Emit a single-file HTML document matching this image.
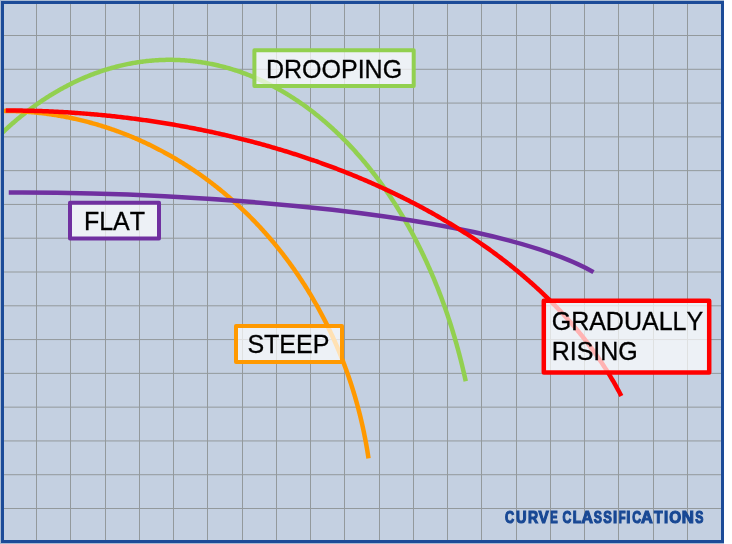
<!DOCTYPE html>
<html><head><meta charset="utf-8"><style>
html,body{margin:0;padding:0;background:#fff;width:732px;height:544px;overflow:hidden}
svg{display:block;will-change:transform}
text{font-family:"Liberation Sans",sans-serif;font-kerning:none}
</style></head><body>
<svg width="732" height="544" viewBox="0 0 732 544">
<rect x="0" y="0" width="724" height="544" fill="#C4D0E1"/>
<g fill="#93999C"><rect x="36" y="4" width="1" height="536"/><rect x="70" y="4" width="1" height="536"/><rect x="105" y="4" width="1" height="536"/><rect x="139" y="4" width="1" height="536"/><rect x="173" y="4" width="1" height="536"/><rect x="207" y="4" width="1" height="536"/><rect x="242" y="4" width="1" height="536"/><rect x="276" y="4" width="1" height="536"/><rect x="310" y="4" width="1" height="536"/><rect x="344" y="4" width="1" height="536"/><rect x="379" y="4" width="1" height="536"/><rect x="413" y="4" width="1" height="536"/><rect x="447" y="4" width="1" height="536"/><rect x="481" y="4" width="1" height="536"/><rect x="516" y="4" width="1" height="536"/><rect x="550" y="4" width="1" height="536"/><rect x="584" y="4" width="1" height="536"/><rect x="618" y="4" width="1" height="536"/><rect x="653" y="4" width="1" height="536"/><rect x="687" y="4" width="1" height="536"/><rect x="4" y="35.00" width="717" height="1"/><rect x="4" y="68.79" width="717" height="1"/><rect x="4" y="102.57" width="717" height="1"/><rect x="4" y="136.36" width="717" height="1"/><rect x="4" y="170.14" width="717" height="1"/><rect x="4" y="203.93" width="717" height="1"/><rect x="4" y="237.71" width="717" height="1"/><rect x="4" y="271.50" width="717" height="1"/><rect x="4" y="305.29" width="717" height="1"/><rect x="4" y="339.07" width="717" height="1"/><rect x="4" y="372.86" width="717" height="1"/><rect x="4" y="406.64" width="717" height="1"/><rect x="4" y="440.43" width="717" height="1"/><rect x="4" y="474.21" width="717" height="1"/><rect x="4" y="508.00" width="717" height="1"/></g>
<g fill="none" stroke-width="4.5" stroke-linecap="butt" stroke-linejoin="round">
<path d="M1.00,134.00 L1.96,133.08 L2.92,132.16 L3.89,131.25 L4.86,130.34 L5.82,129.44 L6.80,128.55 L7.77,127.66 L8.75,126.78 L9.72,125.90 L10.70,125.03 L11.69,124.16 L12.67,123.30 L13.66,122.44 L14.65,121.59 L15.64,120.74 L16.63,119.90 L17.63,119.07 L18.62,118.24 L19.62,117.41 L20.62,116.59 L21.63,115.78 L22.63,114.97 L23.64,114.17 L24.65,113.37 L25.66,112.58 L26.67,111.79 L27.69,111.01 L28.70,110.24 L29.72,109.47 L30.74,108.71 L31.76,107.95 L32.79,107.20 L33.81,106.45 L34.84,105.71 L35.87,104.97 L36.90,104.24 L37.94,103.52 L38.97,102.80 L40.01,102.09 L41.05,101.38 L42.09,100.68 L43.13,99.98 L44.17,99.29 L45.22,98.61 L46.27,97.93 L47.31,97.26 L48.37,96.59 L49.42,95.93 L50.47,95.27 L51.53,94.62 L52.58,93.98 L53.64,93.34 L54.70,92.71 L55.76,92.08 L56.83,91.46 L57.89,90.85 L58.96,90.24 L60.02,89.63 L61.09,89.04 L62.16,88.44 L63.24,87.86 L64.31,87.28 L65.38,86.71 L66.46,86.14 L67.54,85.57 L68.62,85.02 L69.70,84.47 L70.78,83.92 L71.86,83.39 L72.95,82.85 L74.03,82.33 L75.12,81.81 L76.21,81.29 L77.30,80.78 L78.39,80.28 L79.48,79.78 L80.57,79.29 L81.67,78.81 L82.76,78.33 L83.86,77.85 L84.96,77.39 L86.06,76.93 L87.16,76.47 L88.26,76.02 L89.36,75.58 L90.46,75.14 L91.57,74.71 L92.67,74.29 L93.78,73.87 L94.89,73.46 L96.00,73.05 L97.11,72.65 L98.22,72.26 L99.33,71.87 L100.44,71.48 L101.56,71.11 L102.67,70.74 L103.78,70.37 L104.90,70.02 L106.02,69.67 L107.14,69.32 L108.25,68.98 L109.37,68.65 L110.49,68.32 L111.62,68.00 L112.74,67.68 L113.86,67.38 L114.98,67.07 L116.11,66.78 L117.23,66.49 L118.36,66.20 L119.48,65.92 L120.61,65.65 L121.74,65.39 L122.87,65.13 L124.00,64.87 L125.13,64.63 L126.26,64.39 L127.39,64.15 L128.52,63.92 L129.65,63.70 L130.78,63.48 L131.92,63.27 L133.05,63.07 L134.18,62.87 L135.32,62.68 L136.45,62.50 L137.59,62.32 L138.72,62.15 L139.86,61.98 L141.00,61.82 L142.13,61.66 L143.27,61.52 L144.41,61.38 L145.55,61.24 L146.68,61.11 L147.82,60.99 L148.96,60.87 L150.10,60.76 L151.24,60.66 L152.38,60.56 L153.52,60.47 L154.66,60.38 L155.80,60.30 L156.94,60.23 L158.08,60.16 L159.22,60.10 L160.36,60.05 L161.50,60.00 L162.65,59.96 L163.79,59.92 L164.93,59.89 L166.07,59.87 L167.21,59.85 L168.35,59.84 L169.50,59.84 L170.64,59.84 L171.78,59.85 L172.92,59.87 L174.06,59.89 L175.20,59.91 L176.34,59.95 L177.49,59.99 L178.63,60.03 L179.77,60.08 L180.91,60.14 L182.05,60.21 L183.19,60.28 L184.33,60.35 L185.47,60.44 L186.61,60.53 L187.75,60.62 L188.89,60.72 L190.03,60.83 L191.17,60.95 L192.31,61.07 L193.45,61.20 L194.58,61.33 L195.72,61.47 L196.86,61.61 L198.00,61.77 L199.13,61.92 L200.27,62.09 L201.41,62.26 L202.54,62.43 L203.68,62.62 L204.81,62.81 L205.94,63.00 L207.08,63.20 L208.21,63.41 L209.34,63.63 L210.48,63.85 L211.61,64.07 L212.74,64.31 L213.87,64.54 L215.00,64.79 L216.13,65.04 L217.26,65.30 L218.38,65.56 L219.51,65.83 L220.64,66.11 L221.76,66.39 L222.89,66.68 L224.01,66.97 L225.14,67.27 L226.26,67.58 L227.38,67.89 L228.50,68.21 L229.62,68.53 L230.74,68.87 L231.86,69.20 L232.98,69.55 L234.10,69.90 L235.21,70.25 L236.33,70.61 L237.44,70.98 L238.56,71.36 L239.67,71.74 L240.78,72.12 L241.89,72.51 L243.00,72.91 L244.11,73.32 L245.22,73.73 L246.33,74.14 L247.43,74.57 L248.54,75.00 L249.64,75.43 L250.75,75.87 L251.85,76.32 L252.95,76.77 L254.05,77.23 L255.15,77.69 L256.24,78.17 L257.34,78.64 L258.43,79.12 L259.53,79.61 L260.62,80.11 L261.71,80.61 L262.80,81.12 L263.89,81.63 L264.98,82.15 L266.06,82.67 L267.15,83.20 L268.23,83.74 L269.31,84.28 L270.39,84.83 L271.47,85.38 L272.55,85.94 L273.63,86.51 L274.70,87.08 L275.78,87.66 L276.85,88.24 L277.92,88.83 L278.99,89.43 L280.06,90.03 L281.13,90.64 L282.19,91.25 L283.25,91.87 L284.32,92.49 L285.38,93.13 L286.44,93.76 L287.49,94.40 L288.55,95.05 L289.60,95.70 L290.66,96.36 L291.71,97.03 L292.76,97.70 L293.80,98.38 L294.85,99.06 L295.89,99.75 L296.94,100.44 L297.98,101.14 L299.02,101.85 L300.05,102.56 L301.09,103.27 L302.12,104.00 L303.16,104.72 L304.19,105.46 L305.22,106.20 L306.24,106.94 L307.27,107.69 L308.29,108.45 L309.31,109.21 L310.33,109.98 L311.35,110.75 L312.36,111.53 L313.38,112.31 L314.39,113.10 L315.40,113.90 L316.41,114.70 L317.41,115.50 L318.42,116.31 L319.42,117.13 L320.42,117.95 L321.41,118.78 L322.41,119.61 L323.40,120.45 L324.40,121.30 L325.39,122.15 L326.37,123.00 L327.36,123.86 L328.34,124.73 L329.32,125.60 L330.30,126.48 L331.28,127.36 L332.25,128.25 L333.22,129.14 L334.19,130.04 L335.16,130.94 L336.13,131.85 L337.09,132.76 L338.05,133.68 L339.01,134.61 L339.97,135.54 L340.92,136.47 L341.87,137.41 L342.82,138.36 L343.77,139.31 L344.72,140.26 L345.66,141.22 L346.60,142.19 L347.54,143.16 L348.47,144.14 L349.41,145.12 L350.34,146.10 L351.27,147.10 L352.19,148.09 L353.11,149.09 L354.04,150.10 L354.95,151.11 L355.87,152.13 L356.78,153.15 L357.69,154.18 L358.60,155.21 L359.51,156.25 L360.41,157.29 L361.31,158.34 L362.21,159.39 L363.11,160.44 L364.00,161.51 L364.89,162.57 L365.78,163.64 L366.66,164.72 L367.55,165.80 L368.42,166.88 L369.30,167.98 L370.18,169.07 L371.05,170.17 L371.92,171.28 L372.78,172.39 L373.65,173.50 L374.51,174.62 L375.37,175.74 L376.22,176.87 L377.07,178.00 L377.92,179.14 L378.77,180.28 L379.61,181.43 L380.46,182.58 L381.29,183.74 L382.13,184.90 L382.96,186.06 L383.79,187.23 L384.62,188.41 L385.44,189.59 L386.26,190.77 L387.08,191.96 L387.90,193.15 L388.71,194.35 L389.52,195.55 L390.33,196.76 L391.13,197.97 L391.93,199.18 L392.73,200.40 L393.52,201.62 L394.31,202.85 L395.10,204.08 L395.89,205.32 L396.67,206.56 L397.45,207.80 L398.23,209.05 L399.00,210.31 L399.77,211.56 L400.54,212.83 L401.30,214.09 L402.06,215.36 L402.82,216.64 L403.57,217.91 L404.32,219.20 L405.07,220.48 L405.82,221.77 L406.56,223.07 L407.30,224.37 L408.03,225.67 L408.77,226.98 L409.50,228.29 L410.22,229.60 L410.94,230.92 L411.66,232.25 L412.38,233.57 L413.09,234.90 L413.80,236.24 L414.51,237.58 L415.21,238.92 L415.91,240.26 L416.61,241.61 L417.30,242.97 L417.99,244.33 L418.68,245.69 L419.36,247.05 L420.04,248.42 L420.71,249.79 L421.39,251.17 L422.06,252.55 L422.72,253.93 L423.39,255.32 L424.05,256.71 L424.70,258.11 L425.35,259.50 L426.00,260.90 L426.65,262.31 L427.29,263.72 L427.93,265.13 L428.56,266.55 L429.20,267.96 L429.82,269.39 L430.45,270.81 L431.07,272.24 L431.69,273.68 L432.30,275.11 L432.91,276.55 L433.52,277.99 L434.12,279.44 L434.72,280.89 L435.32,282.34 L435.91,283.80 L436.50,285.26 L437.09,286.72 L437.67,288.18 L438.25,289.65 L438.82,291.13 L439.39,292.60 L439.96,294.08 L440.52,295.56 L441.08,297.04 L441.64,298.53 L442.19,300.02 L442.74,301.52 L443.29,303.01 L443.83,304.51 L444.37,306.01 L444.90,307.52 L445.43,309.03 L445.96,310.54 L446.48,312.05 L447.00,313.57 L447.52,315.09 L448.03,316.61 L448.54,318.14 L449.05,319.66 L449.55,321.20 L450.04,322.73 L450.54,324.27 L451.03,325.80 L451.51,327.35 L451.99,328.89 L452.47,330.44 L452.95,331.99 L453.42,333.54 L453.88,335.09 L454.35,336.65 L454.81,338.21 L455.26,339.77 L455.71,341.34 L456.16,342.90 L456.60,344.47 L457.04,346.05 L457.48,347.62 L457.91,349.20 L458.34,350.78 L458.76,352.36 L459.19,353.94 L459.60,355.53 L460.01,357.12 L460.42,358.71 L460.83,360.30 L461.23,361.90 L461.63,363.49 L462.02,365.09 L462.41,366.69 L462.79,368.30 L463.17,369.90 L463.55,371.51 L463.93,373.12 L464.29,374.73 L464.66,376.35 L465.02,377.96 L465.38,379.58 L465.73,381.20" stroke="#92D050"/>
<path d="M2.73,110.87 L3.77,110.87 L4.82,110.88 L5.86,110.88 L6.91,110.90 L7.95,110.91 L9.00,110.93 L10.04,110.95 L11.09,110.98 L12.13,111.00 L13.18,111.03 L14.22,111.07 L15.27,111.11 L16.31,111.15 L17.35,111.19 L18.40,111.24 L19.44,111.29 L20.49,111.35 L21.53,111.40 L22.57,111.47 L23.62,111.53 L24.66,111.60 L25.70,111.67 L26.74,111.74 L27.79,111.82 L28.83,111.90 L29.87,111.98 L30.91,112.07 L31.95,112.16 L33.00,112.26 L34.04,112.35 L35.08,112.45 L36.12,112.56 L37.16,112.67 L38.20,112.78 L39.24,112.89 L40.28,113.01 L41.32,113.13 L42.36,113.25 L43.40,113.38 L44.43,113.51 L45.47,113.64 L46.51,113.78 L47.55,113.92 L48.58,114.06 L49.62,114.21 L50.66,114.36 L51.69,114.51 L52.73,114.67 L53.76,114.82 L54.80,114.99 L55.83,115.15 L56.87,115.32 L57.90,115.50 L58.93,115.67 L59.97,115.85 L61.00,116.03 L62.03,116.22 L63.06,116.41 L64.09,116.60 L65.12,116.80 L66.15,116.99 L67.18,117.20 L68.21,117.40 L69.24,117.61 L70.26,117.82 L71.29,118.04 L72.32,118.25 L73.34,118.48 L74.37,118.70 L75.39,118.93 L76.42,119.16 L77.44,119.39 L78.47,119.63 L79.49,119.87 L80.51,120.12 L81.53,120.36 L82.55,120.61 L83.57,120.87 L84.59,121.12 L85.61,121.38 L86.63,121.65 L87.65,121.91 L88.66,122.18 L89.68,122.46 L90.69,122.73 L91.71,123.01 L92.72,123.30 L93.74,123.58 L94.75,123.87 L95.76,124.16 L96.77,124.46 L97.78,124.76 L98.79,125.06 L99.80,125.36 L100.81,125.67 L101.81,125.98 L102.82,126.30 L103.83,126.61 L104.83,126.94 L105.84,127.26 L106.84,127.59 L107.84,127.92 L108.84,128.25 L109.84,128.59 L110.84,128.93 L111.84,129.27 L112.84,129.62 L113.84,129.97 L114.83,130.32 L115.83,130.67 L116.82,131.03 L117.82,131.39 L118.81,131.76 L119.80,132.13 L120.79,132.50 L121.78,132.87 L122.77,133.25 L123.76,133.63 L124.75,134.01 L125.73,134.40 L126.72,134.79 L127.70,135.18 L128.69,135.58 L129.67,135.98 L130.65,136.38 L131.63,136.79 L132.61,137.20 L133.59,137.61 L134.56,138.02 L135.54,138.44 L136.52,138.86 L137.49,139.29 L138.46,139.71 L139.43,140.14 L140.40,140.58 L141.37,141.01 L142.34,141.45 L143.31,141.90 L144.28,142.34 L145.24,142.79 L146.21,143.24 L147.17,143.70 L148.13,144.15 L149.09,144.61 L150.05,145.08 L151.01,145.54 L151.97,146.01 L152.92,146.49 L153.88,146.96 L154.83,147.44 L155.78,147.92 L156.73,148.41 L157.68,148.90 L158.63,149.39 L159.58,149.88 L160.52,150.38 L161.47,150.88 L162.41,151.38 L163.36,151.89 L164.30,152.39 L165.24,152.91 L166.17,153.42 L167.11,153.94 L168.05,154.46 L168.98,154.98 L169.92,155.51 L170.85,156.04 L171.78,156.57 L172.71,157.11 L173.64,157.64 L174.56,158.19 L175.49,158.73 L176.41,159.28 L177.33,159.83 L178.25,160.38 L179.17,160.94 L180.09,161.49 L181.01,162.06 L181.92,162.62 L182.84,163.19 L183.75,163.76 L184.66,164.33 L185.57,164.91 L186.48,165.49 L187.39,166.07 L188.29,166.65 L189.20,167.24 L190.10,167.83 L191.00,168.42 L191.90,169.02 L192.80,169.62 L193.69,170.22 L194.59,170.82 L195.48,171.43 L196.37,172.04 L197.26,172.65 L198.15,173.27 L199.04,173.89 L199.92,174.51 L200.81,175.13 L201.69,175.76 L202.57,176.39 L203.45,177.02 L204.33,177.66 L205.21,178.30 L206.08,178.94 L206.95,179.58 L207.82,180.23 L208.69,180.88 L209.56,181.53 L210.43,182.18 L211.29,182.84 L212.16,183.50 L213.02,184.16 L213.88,184.83 L214.73,185.50 L215.59,186.17 L216.45,186.84 L217.30,187.52 L218.15,188.20 L219.00,188.88 L219.85,189.56 L220.69,190.25 L221.54,190.94 L222.38,191.63 L223.22,192.33 L224.06,193.02 L224.90,193.72 L225.73,194.43 L226.57,195.13 L227.40,195.84 L228.23,196.55 L229.06,197.27 L229.89,197.98 L230.71,198.70 L231.53,199.42 L232.35,200.15 L233.17,200.87 L233.99,201.60 L234.81,202.33 L235.62,203.07 L236.43,203.80 L237.24,204.54 L238.05,205.28 L238.86,206.03 L239.66,206.78 L240.47,207.53 L241.27,208.28 L242.07,209.03 L242.86,209.79 L243.66,210.55 L244.45,211.31 L245.24,212.08 L246.03,212.84 L246.82,213.61 L247.61,214.38 L248.39,215.16 L249.17,215.94 L249.95,216.72 L250.73,217.50 L251.50,218.28 L252.28,219.07 L253.05,219.86 L253.82,220.65 L254.59,221.44 L255.35,222.24 L256.12,223.04 L256.88,223.84 L257.64,224.64 L258.40,225.45 L259.15,226.26 L259.91,227.07 L260.66,227.88 L261.41,228.70 L262.15,229.52 L262.90,230.34 L263.64,231.16 L264.38,231.99 L265.12,232.81 L265.86,233.64 L266.60,234.48 L267.33,235.31 L268.06,236.15 L268.79,236.99 L269.52,237.83 L270.24,238.67 L270.96,239.52 L271.68,240.36 L272.40,241.22 L273.12,242.07 L273.83,242.92 L274.54,243.78 L275.25,244.64 L275.96,245.50 L276.67,246.37 L277.37,247.23 L278.07,248.10 L278.77,248.97 L279.46,249.84 L280.16,250.72 L280.85,251.60 L281.54,252.48 L282.23,253.36 L282.91,254.24 L283.60,255.13 L284.28,256.01 L284.96,256.91 L285.63,257.80 L286.31,258.69 L286.98,259.59 L287.65,260.49 L288.32,261.39 L288.98,262.29 L289.65,263.20 L290.31,264.10 L290.96,265.01 L291.62,265.92 L292.27,266.84 L292.93,267.75 L293.58,268.67 L294.22,269.59 L294.87,270.51 L295.51,271.43 L296.15,272.36 L296.79,273.29 L297.42,274.22 L298.06,275.15 L298.69,276.08 L299.31,277.02 L299.94,277.96 L300.56,278.90 L301.18,279.84 L301.80,280.78 L302.42,281.73 L303.03,282.67 L303.65,283.62 L304.26,284.57 L304.86,285.53 L305.47,286.48 L306.07,287.44 L306.67,288.40 L307.27,289.36 L307.86,290.32 L308.45,291.29 L309.04,292.25 L309.63,293.22 L310.22,294.19 L310.80,295.16 L311.38,296.14 L311.96,297.11 L312.53,298.09 L313.10,299.07 L313.68,300.05 L314.24,301.03 L314.81,302.02 L315.37,303.00 L315.93,303.99 L316.49,304.98 L317.05,305.97 L317.60,306.97 L318.15,307.96 L318.70,308.96 L319.24,309.96 L319.79,310.96 L320.33,311.96 L320.86,312.97 L321.40,313.97 L321.93,314.98 L322.46,315.99 L322.99,317.00 L323.52,318.01 L324.04,319.02 L324.56,320.04 L325.08,321.06 L325.59,322.08 L326.11,323.10 L326.62,324.12 L327.12,325.14 L327.63,326.17 L328.13,327.19 L328.63,328.22 L329.13,329.25 L329.62,330.28 L330.11,331.32 L330.60,332.35 L331.09,333.39 L331.57,334.43 L332.05,335.46 L332.53,336.51 L333.01,337.55 L333.48,338.59 L333.95,339.64 L334.42,340.68 L334.89,341.73 L335.35,342.78 L335.81,343.83 L336.27,344.89 L336.72,345.94 L337.18,346.99 L337.63,348.05 L338.07,349.11 L338.52,350.17 L338.96,351.23 L339.40,352.29 L339.84,353.36 L340.27,354.42 L340.70,355.49 L341.13,356.56 L341.56,357.63 L341.98,358.70 L342.40,359.77 L342.82,360.84 L343.23,361.92 L343.64,362.99 L344.05,364.07 L344.46,365.15 L344.86,366.23 L345.27,367.31 L345.66,368.39 L346.06,369.48 L346.45,370.56 L346.84,371.65 L347.23,372.73 L347.62,373.82 L348.00,374.91 L348.38,376.00 L348.76,377.10 L349.13,378.19 L349.50,379.28 L349.87,380.38 L350.24,381.48 L350.60,382.57 L350.96,383.67 L351.32,384.77 L351.67,385.88 L352.02,386.98 L352.37,388.08 L352.72,389.19 L353.06,390.29 L353.40,391.40 L353.74,392.51 L354.08,393.62 L354.41,394.73 L354.74,395.84 L355.07,396.95 L355.39,398.06 L355.71,399.18 L356.03,400.29 L356.35,401.41 L356.66,402.53 L356.97,403.64 L357.28,404.76 L357.58,405.88 L357.88,407.00 L358.18,408.13 L358.48,409.25 L358.77,410.37 L359.06,411.50 L359.35,412.62 L359.64,413.75 L359.92,414.88 L360.20,416.01 L360.47,417.14 L360.75,418.27 L361.02,419.40 L361.28,420.53 L361.55,421.66 L361.81,422.80 L362.07,423.93 L362.33,425.07 L362.58,426.20 L362.83,427.34 L363.08,428.48 L363.32,429.61 L363.57,430.75 L363.80,431.89 L364.04,433.03 L364.27,434.18 L364.50,435.32 L364.73,436.46 L364.96,437.60 L365.18,438.75 L365.40,439.89 L365.61,441.04 L365.83,442.19 L366.04,443.33 L366.25,444.48 L366.45,445.63 L366.65,446.78 L366.85,447.93 L367.05,449.08 L367.24,450.23 L367.43,451.38 L367.62,452.53 L367.80,453.68 L367.98,454.84 L368.16,455.99 L368.34,457.15 L368.51,458.30" stroke="#FF9900"/>
<path d="M8.75,192.52 C196.69,191.49 488.92,213.24 593.51,272.10" stroke="#7030A0"/>
<path d="M5.70,110.48 L7.33,110.48 L8.95,110.49 L10.58,110.49 L12.20,110.50 L13.83,110.51 L15.46,110.53 L17.08,110.54 L18.71,110.56 L20.33,110.59 L21.96,110.61 L23.59,110.64 L25.21,110.67 L26.84,110.70 L28.46,110.74 L30.09,110.77 L31.71,110.82 L33.34,110.86 L34.96,110.90 L36.59,110.95 L38.21,111.00 L39.83,111.06 L41.46,111.11 L43.08,111.17 L44.71,111.23 L46.33,111.30 L47.95,111.36 L49.57,111.43 L51.20,111.51 L52.82,111.58 L54.44,111.66 L56.06,111.74 L57.68,111.82 L59.30,111.90 L60.92,111.99 L62.54,112.08 L64.16,112.18 L65.78,112.27 L67.40,112.37 L69.02,112.47 L70.64,112.57 L72.26,112.68 L73.87,112.79 L75.49,112.90 L77.11,113.01 L78.72,113.13 L80.34,113.25 L81.95,113.37 L83.57,113.49 L85.18,113.62 L86.80,113.75 L88.41,113.88 L90.02,114.01 L91.64,114.15 L93.25,114.29 L94.86,114.43 L96.47,114.58 L98.08,114.73 L99.69,114.88 L101.30,115.03 L102.90,115.18 L104.51,115.34 L106.12,115.50 L107.73,115.66 L109.33,115.83 L110.94,116.00 L112.54,116.17 L114.14,116.34 L115.75,116.52 L117.35,116.70 L118.95,116.88 L120.55,117.06 L122.15,117.25 L123.75,117.44 L125.35,117.63 L126.95,117.82 L128.54,118.02 L130.14,118.22 L131.74,118.42 L133.33,118.62 L134.93,118.83 L136.52,119.04 L138.11,119.25 L139.70,119.46 L141.29,119.68 L142.88,119.90 L144.47,120.12 L146.06,120.35 L147.65,120.57 L149.23,120.80 L150.82,121.04 L152.40,121.27 L153.99,121.51 L155.57,121.75 L157.15,121.99 L158.73,122.24 L160.31,122.48 L161.89,122.73 L163.47,122.99 L165.05,123.24 L166.62,123.50 L168.20,123.76 L169.77,124.02 L171.34,124.29 L172.91,124.56 L174.48,124.83 L176.05,125.10 L177.62,125.38 L179.19,125.65 L180.76,125.93 L182.32,126.22 L183.89,126.50 L185.45,126.79 L187.01,127.08 L188.57,127.37 L190.13,127.67 L191.69,127.97 L193.25,128.27 L194.80,128.57 L196.36,128.88 L197.91,129.19 L199.46,129.50 L201.02,129.81 L202.57,130.12 L204.11,130.44 L205.66,130.76 L207.21,131.09 L208.75,131.41 L210.30,131.74 L211.84,132.07 L213.38,132.40 L214.92,132.74 L216.46,133.08 L218.00,133.42 L219.53,133.76 L221.07,134.11 L222.60,134.45 L224.13,134.80 L225.66,135.16 L227.19,135.51 L228.72,135.87 L230.25,136.23 L231.77,136.59 L233.29,136.96 L234.82,137.33 L236.34,137.70 L237.86,138.07 L239.37,138.44 L240.89,138.82 L242.40,139.20 L243.92,139.58 L245.43,139.97 L246.94,140.35 L248.45,140.74 L249.96,141.14 L251.46,141.53 L252.96,141.93 L254.47,142.33 L255.97,142.73 L257.47,143.13 L258.97,143.54 L260.46,143.95 L261.96,144.36 L263.45,144.77 L264.94,145.19 L266.43,145.61 L267.92,146.03 L269.41,146.45 L270.89,146.88 L272.37,147.31 L273.85,147.74 L275.33,148.17 L276.81,148.60 L278.29,149.04 L279.76,149.48 L281.24,149.92 L282.71,150.37 L284.18,150.82 L285.64,151.26 L287.11,151.72 L288.57,152.17 L290.04,152.63 L291.50,153.09 L292.96,153.55 L294.41,154.01 L295.87,154.48 L297.32,154.95 L298.77,155.42 L300.22,155.89 L301.67,156.36 L303.12,156.84 L304.56,157.32 L306.00,157.80 L307.44,158.29 L308.88,158.78 L310.32,159.26 L311.75,159.76 L313.19,160.25 L314.62,160.75 L316.05,161.24 L317.47,161.74 L318.90,162.25 L320.32,162.75 L321.74,163.26 L323.16,163.77 L324.58,164.28 L325.99,164.80 L327.40,165.31 L328.82,165.83 L330.22,166.35 L331.63,166.88 L333.04,167.40 L334.44,167.93 L335.84,168.46 L337.24,168.99 L338.63,169.53 L340.03,170.07 L341.42,170.61 L342.81,171.15 L344.20,171.69 L345.59,172.24 L346.97,172.78 L348.35,173.34 L349.73,173.89 L351.11,174.44 L352.48,175.00 L353.86,175.56 L355.23,176.12 L356.59,176.68 L357.96,177.25 L359.33,177.82 L360.69,178.39 L362.05,178.96 L363.40,179.54 L364.76,180.11 L366.11,180.69 L367.46,181.27 L368.81,181.86 L370.16,182.44 L371.50,183.03 L372.84,183.62 L374.18,184.21 L375.52,184.81 L376.85,185.40 L378.19,186.00 L379.52,186.60 L380.84,187.20 L382.17,187.81 L383.49,188.42 L384.81,189.03 L386.13,189.64 L387.45,190.25 L388.76,190.87 L390.07,191.48 L391.38,192.10 L392.68,192.73 L393.99,193.35 L395.29,193.98 L396.59,194.60 L397.88,195.23 L399.18,195.87 L400.47,196.50 L401.76,197.14 L403.04,197.78 L404.33,198.42 L405.61,199.06 L406.89,199.70 L408.16,200.35 L409.44,201.00 L410.71,201.65 L411.98,202.30 L413.24,202.96 L414.51,203.61 L415.77,204.27 L417.03,204.94 L418.28,205.60 L419.54,206.26 L420.79,206.93 L422.03,207.60 L423.28,208.27 L424.52,208.94 L425.76,209.62 L427.00,210.30 L428.23,210.98 L429.47,211.66 L430.70,212.34 L431.92,213.02 L433.15,213.71 L434.37,214.40 L435.59,215.09 L436.80,215.78 L438.02,216.48 L439.23,217.18 L440.43,217.88 L441.64,218.58 L442.84,219.28 L444.04,219.98 L445.24,220.69 L446.43,221.40 L447.62,222.11 L448.81,222.82 L450.00,223.54 L451.18,224.25 L452.36,224.97 L453.54,225.69 L454.71,226.41 L455.89,227.14 L457.05,227.86 L458.22,228.59 L459.38,229.32 L460.54,230.05 L461.70,230.78 L462.86,231.52 L464.01,232.25 L465.16,232.99 L466.30,233.73 L467.45,234.48 L468.59,235.22 L469.72,235.97 L470.86,236.71 L471.99,237.46 L473.12,238.21 L474.24,238.97 L475.37,239.72 L476.48,240.48 L477.60,241.24 L478.72,242.00 L479.83,242.76 L480.93,243.53 L482.04,244.29 L483.14,245.06 L484.24,245.83 L485.33,246.60 L486.43,247.37 L487.52,248.15 L488.60,248.92 L489.69,249.70 L490.77,250.48 L491.85,251.26 L492.92,252.05 L493.99,252.83 L495.06,253.62 L496.13,254.41 L497.19,255.20 L498.25,255.99 L499.30,256.78 L500.36,257.58 L501.41,258.38 L502.45,259.17 L503.50,259.97 L504.54,260.78 L505.57,261.58 L506.61,262.39 L507.64,263.19 L508.67,264.00 L509.69,264.81 L510.71,265.62 L511.73,266.44 L512.75,267.25 L513.76,268.07 L514.77,268.89 L515.77,269.71 L516.77,270.53 L517.77,271.35 L518.77,272.18 L519.76,273.01 L520.75,273.83 L521.74,274.66 L522.72,275.50 L523.70,276.33 L524.68,277.16 L525.65,278.00 L526.62,278.84 L527.59,279.68 L528.55,280.52 L529.51,281.36 L530.47,282.20 L531.42,283.05 L532.37,283.90 L533.32,284.75 L534.26,285.60 L535.20,286.45 L536.14,287.30 L537.07,288.15 L538.00,289.01 L538.93,289.87 L539.85,290.73 L540.77,291.59 L541.69,292.45 L542.60,293.31 L543.51,294.18 L544.42,295.04 L545.32,295.91 L546.22,296.78 L547.12,297.65 L548.01,298.52 L548.90,299.40 L549.79,300.27 L550.67,301.15 L551.55,302.03 L552.42,302.91 L553.30,303.79 L554.17,304.67 L555.03,305.55 L555.89,306.44 L556.75,307.33 L557.61,308.21 L558.46,309.10 L559.31,309.99 L560.15,310.88 L560.99,311.78 L561.83,312.67 L562.66,313.57 L563.50,314.46 L564.32,315.36 L565.15,316.26 L565.97,317.16 L566.78,318.07 L567.60,318.97 L568.41,319.88 L569.21,320.78 L570.01,321.69 L570.81,322.60 L571.61,323.51 L572.40,324.42 L573.19,325.33 L573.97,326.25 L574.76,327.16 L575.53,328.08 L576.31,329.00 L577.08,329.92 L577.84,330.84 L578.61,331.76 L579.37,332.68 L580.12,333.61 L580.88,334.53 L581.62,335.46 L582.37,336.38 L583.11,337.31 L583.85,338.24 L584.58,339.18 L585.31,340.11 L586.04,341.04 L586.76,341.98 L587.48,342.91 L588.20,343.85 L588.91,344.79 L589.62,345.73 L590.33,346.67 L591.03,347.61 L591.72,348.55 L592.42,349.50 L593.11,350.44 L593.80,351.39 L594.48,352.33 L595.16,353.28 L595.83,354.23 L596.50,355.18 L597.17,356.13 L597.84,357.09 L598.50,358.04 L599.15,358.99 L599.81,359.95 L600.46,360.91 L601.10,361.86 L601.74,362.82 L602.38,363.78 L603.02,364.74 L603.65,365.71 L604.27,366.67 L604.90,367.63 L605.52,368.60 L606.13,369.56 L606.74,370.53 L607.35,371.50 L607.96,372.47 L608.56,373.44 L609.15,374.41 L609.75,375.38 L610.34,376.35 L610.92,377.33 L611.50,378.30 L612.08,379.28 L612.65,380.25 L613.22,381.23 L613.79,382.21 L614.35,383.19 L614.91,384.17 L615.47,385.15 L616.02,386.13 L616.56,387.12 L617.11,388.10 L617.65,389.08 L618.18,390.07 L618.71,391.06 L619.24,392.04 L619.76,393.03 L620.28,394.02 L620.80,395.01 L621.31,396.00" stroke="#FF0000"/>
</g>
<g stroke-width="4" stroke-linejoin="round">
<rect x="254.4" y="50.3" width="159.3" height="35.8" fill="#ffffff" fill-opacity="0.7" stroke="#92D050"/>
<rect x="70" y="202.8" width="89" height="35.7" fill="#ffffff" fill-opacity="0.7" stroke="#7030A0"/>
<rect x="236" y="326" width="106" height="36" fill="#ffffff" fill-opacity="0.7" stroke="#FF9900"/>
<rect x="543.8" y="300.8" width="165.4" height="71.8" fill="#ffffff" fill-opacity="0.7" stroke="#FF0000" stroke-width="4.5"/>
</g>
<g font-size="25" fill="#000" stroke="#000" stroke-width="0.3">
<text x="266" y="78">DROOPING</text>
<text x="83.9" y="230">FLAT</text>
<text x="247.4" y="352.8">STEEP</text>
<text x="551.7" y="330">GRADUALLY</text>
<text x="551.7" y="359.7">RISING</text>
</g>
<g font-size="16" font-weight="bold" fill="#184894" stroke="#184894" stroke-width="1.1" vector-effect="non-scaling-stroke"><text transform="translate(505.08 522.5) scale(0.795 1)">C</text><text transform="translate(516.06 522.5) scale(0.913 1)">U</text><text transform="translate(527.90 522.5) scale(0.874 1)">R</text><text transform="translate(538.49 522.5) scale(0.956 1)">V</text><text transform="translate(550.24 522.5) scale(0.700 1)">E</text><text transform="translate(562.59 522.5) scale(0.768 1)">C</text><text transform="translate(572.80 522.5) scale(0.876 1)">L</text><text transform="translate(581.40 522.5) scale(0.991 1)">A</text><text transform="translate(593.85 522.5) scale(0.767 1)">S</text><text transform="translate(603.24 522.5) scale(0.806 1)">S</text><text transform="translate(612.96 522.5) scale(0.931 1)">I</text><text transform="translate(618.74 522.5) scale(0.700 1)">F</text><text transform="translate(626.26 522.5) scale(0.931 1)">I</text><text transform="translate(632.29 522.5) scale(0.768 1)">C</text><text transform="translate(641.10 522.5) scale(1.017 1)">A</text><text transform="translate(654.09 522.5) scale(0.881 1)">T</text><text transform="translate(664.06 522.5) scale(0.931 1)">I</text><text transform="translate(669.32 522.5) scale(0.958 1)">O</text><text transform="translate(681.66 522.5) scale(1.050 1)">N</text><text transform="translate(695.15 522.5) scale(0.767 1)">S</text></g>
<g shape-rendering="crispEdges">
<rect x="0" y="0" width="725" height="544" fill="none" stroke="#A9BAD3" stroke-width="2"/>
<path d="M1,1 H724 V543 H1 Z M4,4 V540 H721 V4 Z" fill="#1C4B98" fill-rule="evenodd"/>
<rect x="724" y="0" width="8" height="544" fill="#ffffff"/>
</g>
</svg>
</body></html>
